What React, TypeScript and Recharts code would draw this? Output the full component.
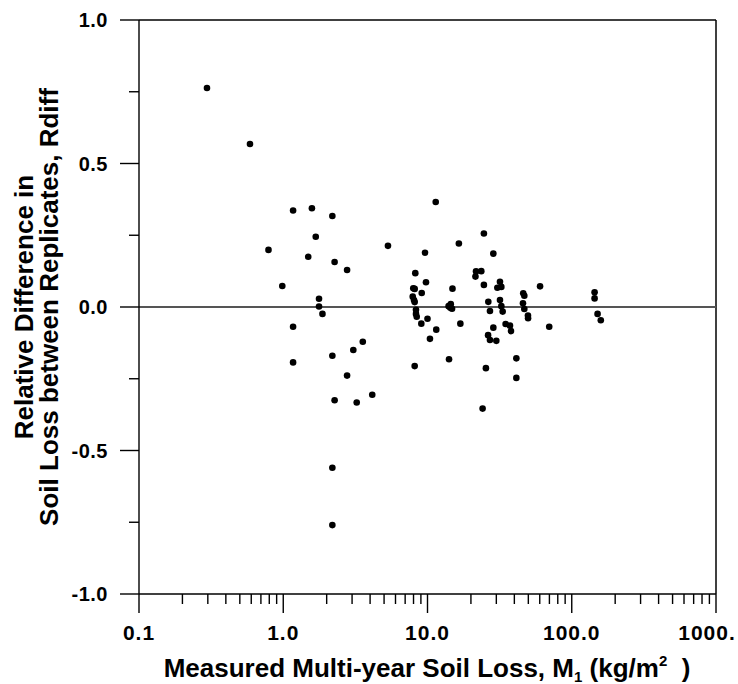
import React from "react";
import {
  ScatterChart,
  Scatter,
  XAxis,
  YAxis,
  ReferenceLine,
  Label,
} from "recharts";

// Measured multi-year soil loss M1 (kg/m2)
const soilLoss = [
  0.296, 0.588, 1.17, 1.58, 2.19, 1.68, 0.79, 5.32, 1.49, 2.27, 2.77, 8.23, 0.985,
  7.97, 1.77, 1.77, 1.87, 1.17, 3.56, 3.06, 2.19, 1.17, 8.15, 2.77, 4.14, 2.27, 3.23,
  2.19, 2.19, 11.4, 24.6, 16.5, 9.61, 28.6, 21.7, 23.6, 21.5, 9.76, 24.6, 31.8, 30.5,
  32.5, 8.15, 14.9, 9.12, 60.3, 46.1, 46.9, 144, 144, 7.9, 8.06, 8.15, 14.5, 14.0,
  14.8, 14.4, 26.4, 31.8, 32.5, 33.2, 45.9, 46.9, 27.1, 8.32, 8.32, 8.42, 10.0, 49.7,
  49.8, 151, 159, 9.06, 11.5, 16.9, 34.8, 37.3, 37.9, 28.6, 69.8, 26.3, 27.1, 30.0,
  10.4, 14.1, 41.3, 25.4, 41.3, 24.1,
];

// Relative difference between replicates, Rdiff
const rdiff = [
  0.763, 0.568, 0.336, 0.344, 0.317, 0.245, 0.199, 0.213, 0.175, 0.157, 0.129, 0.118,
  0.073, 0.065, 0.029, 0.002, -0.024, -0.069, -0.121, -0.15, -0.17, -0.193, -0.206,
  -0.239, -0.306, -0.325, -0.333, -0.56, -0.76, 0.366, 0.256, 0.221, 0.189, 0.186,
  0.124, 0.125, 0.106, 0.086, 0.077, 0.088, 0.067, 0.07, 0.063, 0.064, 0.049, 0.072,
  0.048, 0.039, 0.051, 0.03, 0.036, 0.024, 0.017, 0.01, 0.003, -0.006, -0.003, 0.018,
  0.024, 0.003, -0.016, 0.013, -0.007, -0.014, -0.01, -0.024, -0.034, -0.041, -0.03,
  -0.039, -0.024, -0.046, -0.058, -0.079, -0.058, -0.059, -0.065, -0.084, -0.072,
  -0.069, -0.098, -0.115, -0.118, -0.111, -0.182, -0.179, -0.213, -0.247, -0.354,
];

const xMajorTicks = [0.1, 1, 10, 100, 1000];
const xMajorLabels = ["0.1", "1.0", "10.0", "100.0", "1000."];
const xMinorTicks = [
  0.2, 0.3, 0.4, 0.5, 0.6, 0.7, 0.8, 0.9,
  2, 3, 4, 5, 6, 7, 8, 9,
  20, 30, 40, 50, 60, 70, 80, 90,
  200, 300, 400, 500, 600, 700, 800, 900,
];
const yMajorTicks = [-1, -0.5, 0, 0.5, 1];
const yMajorLabels = ["-1.0", "-0.5", "0.0", "0.5", "1.0"];
const yMinorTicks = [-0.75, -0.25, 0.25, 0.75];

const data = soilLoss.map((x, i) => ({ x, y: rdiff[i] }));

const FONT = '"Liberation Sans", Arial, Helvetica, sans-serif';
const Y_TICK = 19;

function XTick(props: any) {
  const { x, y, payload } = props;
  const idx = xMajorTicks.indexOf(payload.value);
  const major = idx >= 0;
  // last label sits a little left of its tick, as in the source
  const dx = payload.value === 1000 ? -9 : 0;
  return (
    <g>
      <rect x={x - 0.7} y={y} width={1.4} height={major ? 19 : 10} fill="#000" />
      {major && (
        <text
          x={x + dx}
          y={y + 46}
          textAnchor="middle"
          fontFamily={FONT}
          fontWeight="bold"
          fontSize={21}
          letterSpacing={1}
          fill="#000"
        >
          {xMajorLabels[idx]}
        </text>
      )}
    </g>
  );
}

// x here is the outer end of the native tick line (axis x - Y_TICK)
function YTick(props: any) {
  const { x, y, payload } = props;
  const idx = yMajorTicks.indexOf(payload.value);
  const major = idx >= 0;
  return (
    <g>
      {!major && <rect x={x - 1} y={y - 2} width={10} height={4} fill="#fff" />}
      {major && (
        <text
          x={x - 12}
          y={y + 7}
          textAnchor="end"
          fontFamily={FONT}
          fontWeight="bold"
          fontSize={20}
          letterSpacing={0.5}
          fill="#000"
        >
          {yMajorLabels[idx]}
        </text>
      )}
    </g>
  );
}

function YTitle() {
  const cy = 307;
  return (
    <g fontFamily={FONT} fontWeight="bold" fontSize={26} fill="#000">
      <text x={33} y={cy} textAnchor="middle" transform={`rotate(-90, 33, ${cy})`}>
        Relative Difference in
      </text>
      <text x={58} y={cy} textAnchor="middle" transform={`rotate(-90, 58, ${cy})`}>
        Soil Loss between Replicates, Rdiff
      </text>
    </g>
  );
}

function XTitle() {
  return (
    <text
      x={427}
      y={677}
      textAnchor="middle"
      fontFamily={FONT}
      fontWeight="bold"
      fontSize={26}
      fill="#000"
    >
      Measured Multi-year Soil Loss, M
      <tspan fontSize={15} dy={5}>1</tspan>
      <tspan dy={-5}> (kg/m</tspan>
      <tspan fontSize={15} dy={-11}>2</tspan>
      <tspan dy={11}>{"\u00a0\u00a0)"}</tspan>
    </text>
  );
}

export default function App() {
  return (
    <div style={{ position: "absolute", left: 0, top: 0, background: "#fff" }}>
      <ScatterChart
        width={738}
        height={684}
        margin={{ top: 20, right: 22, bottom: 0, left: 0 }}
      >
        <XAxis
          dataKey="x"
          type="number"
          scale="log"
          domain={[0.1, 1000]}
          allowDataOverflow
          ticks={[...xMajorTicks, ...xMinorTicks]}
          interval={0}
          height={90}
          tickSize={0}
          tickMargin={0}
          tickLine={false}
          axisLine={{ stroke: "#000", strokeWidth: 1.4 }}
          tick={<XTick />}
          label={<Label content={<XTitle />} />}
        />
        <YAxis
          dataKey="y"
          type="number"
          domain={[-1, 1]}
          allowDataOverflow
          ticks={[...yMajorTicks, ...yMinorTicks]}
          interval={0}
          width={139}
          tickSize={Y_TICK}
          tickMargin={0}
          tickLine={{ stroke: "#000", strokeWidth: 1.4 }}
          axisLine={{ stroke: "#000", strokeWidth: 1.4 }}
          tick={<YTick />}
          label={<Label content={<YTitle />} />}
        />
        <ReferenceLine y={1} stroke="#000" strokeWidth={1.5} />
        <ReferenceLine x={1000} stroke="#000" strokeWidth={1.5} />
        <ReferenceLine y={0} stroke="#555" strokeWidth={2} />
        <Scatter
          data={data}
          isAnimationActive={false}
          shape={(p: any) => <circle cx={p.cx} cy={p.cy} r={3.3} fill="#000" />}
        />
      </ScatterChart>
    </div>
  );
}
